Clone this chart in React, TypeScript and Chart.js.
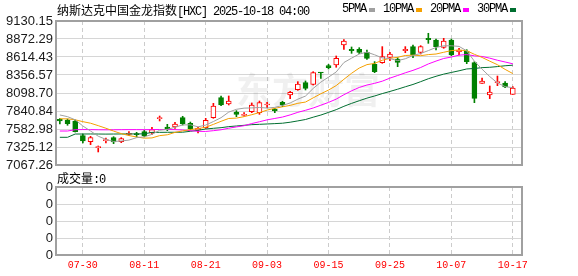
import React, { useEffect, useRef } from 'react';
import { Chart, registerables } from 'chart.js';

Chart.register(...registerables);

const dates = ['07-25','07-28','07-29','07-30','07-31','08-01','08-04','08-05','08-06','08-07','08-08','08-11','08-12','08-13','08-14','08-15','08-18','08-19','08-20','08-21','08-22','08-25','08-26','08-27','08-28','08-29','09-02','09-03','09-04','09-05','09-08','09-09','09-10','09-11','09-12','09-15','09-16','09-17','09-18','09-19','09-22','09-23','09-24','09-25','09-26','09-29','09-30','10-01','10-02','10-03','10-06','10-07','10-08','10-09','10-10','10-13','10-14','10-15','10-16','10-17'];

const opens = [7721,7712,7698,7488,7402,7316,7416,7459,7402,7507,7516,7545,7526,7731,7612,7612,7745,7664,7569,7602,7745,8032,7941,7827,7779,7831,7817,7927,7865,7965,8070,8147,8247,8223,8390,8490,8500,8786,8724,8724,8681,8509,8533,8610,8586,8705,8763,8681,8882,8858,8753,8858,8691,8700,8533,8237,8070,8247,8242,8080];
const highs = [7731,7726,7712,7511,7478,7340,7454,7473,7459,7545,7535,7564,7607,7769,7650,7679,7765,7683,7607,7736,7951,8056,8056,7846,7817,7956,7984,7965,7879,7980,8123,8261,8271,8404,8395,8509,8629,8863,8758,8748,8715,8548,8763,8681,8605,8763,8786,8777,8954,8872,8882,8872,8739,8719,8548,8314,8199,8342,8261,8190];
const lows = [7655,7636,7540,7382,7359,7254,7382,7373,7387,7488,7469,7469,7507,7698,7559,7593,7640,7569,7526,7593,7736,7917,7927,7760,7765,7817,7793,7889,7817,7903,8018,8137,8142,8213,8309,8443,8467,8724,8667,8662,8581,8390,8524,8562,8476,8676,8605,8657,8810,8715,8739,8634,8643,8519,7960,8237,8018,8204,8175,8080];
const closes = [7698,7659,7545,7411,7459,7325,7430,7397,7445,7521,7502,7488,7573,7741,7583,7655,7655,7583,7593,7707,7913,7927,7984,7793,7793,7927,7960,7941,7846,7927,8108,8228,8166,8390,8385,8462,8595,8844,8705,8681,8595,8404,8619,8658,8538,8724,8643,8763,8863,8763,8844,8643,8715,8548,8022,8271,8113,8261,8185,8170];

const ma5 = [7784,7760,7715,7626,7554,7480,7434,7404,7411,7424,7459,7471,7506,7565,7577,7608,7641,7643,7614,7639,7690,7745,7825,7865,7882,7885,7891,7883,7893,7920,7956,8010,8055,8164,8255,8326,8400,8535,8598,8657,8684,8646,8601,8591,8563,8589,8636,8665,8706,8751,8775,8775,8766,8703,8554,8440,8334,8243,8190,8175];
const ma10 = [7730,7728,7715,7688,7666,7631,7594,7553,7517,7489,7469,7452,7455,7488,7500,7534,7556,7575,7589,7608,7649,7693,7734,7739,7760,7788,7818,7854,7879,7901,7921,7951,7969,8029,8088,8141,8205,8295,8381,8456,8505,8523,8568,8595,8610,8636,8641,8633,8649,8657,8682,8706,8715,8704,8653,8608,8555,8504,8437,8377];
const ma20 = [7554,7554,7573,7575,7574,7572,7571,7572,7573,7574,7574,7573,7574,7576,7575,7574,7569,7559,7550,7548,7559,7572,7594,7613,7630,7661,7687,7714,7734,7754,7785,7822,7851,7884,7924,7964,8011,8074,8130,8178,8213,8237,8268,8312,8349,8388,8423,8464,8515,8556,8593,8614,8641,8649,8631,8622,8598,8568,8543,8517];
const ma30 = [7464,7464,7511,7511,7512,7511,7510,7511,7512,7512,7513,7513,7535,7535,7536,7536,7537,7550,7564,7583,7593,7602,7617,7626,7636,7645,7650,7655,7660,7666,7680,7699,7719,7752,7783,7821,7860,7908,7950,7988,8025,8056,8090,8121,8153,8188,8221,8261,8303,8338,8369,8393,8417,8443,8450,8462,8467,8477,8489,8497];
const volumes = [0,0,0,0,0,0,0,0,0,0,0,0,0,0,0,0,0,0,0,0,0,0,0,0,0,0,0,0,0,0,0,0,0,0,0,0,0,0,0,0,0,0,0,0,0,0,0,0,0,0,0,0,0,0,0,0,0,0,0,0];

const priceTickLabels = ['7067.26','7325.12','7582.98','7840.84','8098.70','8356.57','8614.43','8872.29','9130.15'];
const volTickLabels = ['0','0','0','0','0'];
const xTickLabels = ['07-30','08-11','08-21','09-03','09-15','09-25','10-07','10-17'];

const titleCn = '纳斯达克中国金龙指数';
const titleAscii = '[HXC] 2025-10-18 04:00';
const legendItems = [
  { label: '5PMA', color: '#a0a0a0' },
  { label: '10PMA', color: '#f5a000' },
  { label: '20PMA', color: '#ff00ff' },
  { label: '30PMA', color: '#006e30' },
];

const RED = '#ff0000';
const GREEN = '#008000';
const CN_FONT = '"Noto Sans CJK SC", sans-serif';
const MONO_FONT = '"Liberation Mono", monospace';
const Y_FONT = { family: '"Liberation Sans", Arial, sans-serif', size: 13 };

const boxPlugin = {
  id: 'box',
  afterDatasetsDraw(chart: any) {
    const { ctx, chartArea: a } = chart;
    ctx.save();
    ctx.strokeStyle = '#a0a0a0';
    ctx.lineWidth = 2;
    ctx.strokeRect(a.left, a.top, a.right - a.left, a.bottom - a.top);
    ctx.restore();
  },
};

const watermarkPlugin = {
  id: 'watermark',
  beforeDatasetsDraw(chart: any) {
    const { ctx } = chart;
    ctx.save();
    ctx.fillStyle = 'rgba(0,0,0,0.06)';
    ctx.font = 'bold 36px "Noto Sans CJK SC"';
    ctx.textBaseline = 'middle';
    ctx.textAlign = 'left';
    ctx.fillText('东方财富', 236, 90);
    ctx.restore();
  },
};

const xMin = -0.5;
const xMax = 60.2;
const VOL_BASE = 1;

function xTicks(scale: any) {
  scale.ticks = xTickLabels.map((l) => ({ value: dates.indexOf(l) }));
}

const hiddenX = {
  type: 'linear',
  offset: false,
  min: xMin,
  max: xMax,
  afterBuildTicks: xTicks,
  afterFit: (s: any) => { s.height = 0; },
  ticks: { display: false },
  grid: { color: '#cccccc', lineWidth: 1, drawTicks: false, offset: false },
  border: { display: false, dash: [4, 3] },
};

function yAxis(min: number, max: number, labels: string[], values: number[]) {
  return {
    type: 'linear',
    min,
    max,
    afterBuildTicks: (s: any) => { s.ticks = values.map((v) => ({ value: v })); },
    afterFit: (s: any) => { s.width = 56; },
    ticks: {
      autoSkip: false,
      padding: 3,
      color: '#1a1a1a',
      font: Y_FONT,
      callback: (_v: any, i: number) => labels[i],
    },
    grid: { color: '#d6d6d6', lineWidth: 1, drawTicks: false },
    border: { display: false },
  };
}

export default function App() {
  const mainRef = useRef<HTMLCanvasElement>(null);
  const volRef = useRef<HTMLCanvasElement>(null);
  const axisRef = useRef<HTMLCanvasElement>(null);

  useEffect(() => {
    const up = closes.map((c, i) => c >= opens[i]);
    const lineDs = (data: number[], color: string) => ({
      type: 'line' as const,
      data: data.map((v, i) => ({ x: i, y: v })),
      borderColor: color,
      borderWidth: 1,
      pointRadius: 0,
      tension: 0,
      fill: false,
    });

    const main = new Chart(mainRef.current!, {
      type: 'bar',
      data: {
        datasets: [
          lineDs(ma5, '#a0a0a0'),
          lineDs(ma10, '#f5a000'),
          lineDs(ma20, '#ff00ff'),
          lineDs(ma30, '#006e30'),
          {
            type: 'bar',
            data: opens.map((o, i) => ({ x: i, y: [o, closes[i]] })),
            backgroundColor: up.map((u) => (u ? '#ffffff' : GREEN)),
            borderColor: up.map((u) => (u ? RED : GREEN)),
            borderWidth: 1,
            borderSkipped: false,
            barThickness: 5,
            minBarLength: 1,
            grouped: false,
          } as any,
          {
            type: 'bar',
            data: lows.map((l, i) => ({ x: i, y: [l, highs[i]] })),
            backgroundColor: up.map((u) => (u ? RED : GREEN)),
            borderWidth: 0,
            barThickness: 1,
            grouped: false,
          } as any,
        ],
      },
      options: {
        responsive: false,
        animation: false,
        events: [],
        layout: { padding: { left: 0, top: 21, right: 56, bottom: 11 } },
        plugins: { legend: { display: false }, tooltip: { enabled: false } },
        scales: {
          x: hiddenX,
          y: yAxis(7067.26, 9130.15, priceTickLabels, priceTickLabels.map((t) => parseFloat(t))),
        },
      } as any,
      plugins: [watermarkPlugin, boxPlugin],
    });

    const vol = new Chart(volRef.current!, {
      type: 'bar',
      data: {
        datasets: [
          {
            type: 'line',
            data: volumes.map((v, i) => ({ x: i, y: VOL_BASE + v })),
            borderWidth: 0,
            borderColor: 'rgba(0,0,0,0)',
            pointRadius: 0,
            fill: false,
          } as any,
          {
            type: 'bar',
            data: volumes.map((v, i) => ({ x: i, y: [VOL_BASE, VOL_BASE + v] })),
            backgroundColor: up.map((u) => (u ? RED : GREEN)),
            barThickness: 5,
            grouped: false,
          } as any,
        ],
      },
      options: {
        responsive: false,
        animation: false,
        events: [],
        layout: { padding: { left: 0, top: 11, right: 56, bottom: 21 } },
        plugins: { legend: { display: false }, tooltip: { enabled: false } },
        scales: {
          x: hiddenX,
          y: yAxis(
            VOL_BASE,
            VOL_BASE + volTickLabels.length - 1,
            volTickLabels,
            volTickLabels.map((_t, i) => VOL_BASE + i + 0.0001 * 0),
          ),
        },
      } as any,
      plugins: [boxPlugin],
    });

    const axis = new Chart(axisRef.current!, {
      type: 'line',
      data: { datasets: [{ data: [], showLine: false, pointRadius: 0 }] },
      options: {
        responsive: false,
        animation: false,
        events: [],
        layout: { padding: { left: 56, top: 0, right: 56, bottom: 0 } },
        plugins: { legend: { display: false }, tooltip: { enabled: false } },
        scales: {
          x: {
            type: 'linear',
            offset: false,
            min: xMin,
            max: xMax,
            afterBuildTicks: xTicks,
            afterFit: (s: any) => { s.height = 21; },
            ticks: {
              autoSkip: false,
              maxRotation: 0,
              padding: 4,
              color: RED,
              font: { family: MONO_FONT, size: 10 },
              callback: (v: any) => dates[Math.round(v)],
            },
            grid: { display: false, drawTicks: false },
            border: { display: false },
          },
          y: { display: false, min: 0, max: 1 },
        },
      } as any,
    });

    return () => {
      main.destroy();
      vol.destroy();
      axis.destroy();
    };
  }, []);

  const ascii: React.CSSProperties = { fontFamily: MONO_FONT, fontSize: 12, letterSpacing: '-1.2px' };
  const cn: React.CSSProperties = { fontFamily: CN_FONT, fontSize: 12 };

  return (
    <div style={{ position: 'absolute', left: 0, top: 0, width: 578, height: 276, background: '#ffffff', overflow: 'hidden' }}>
      <canvas ref={mainRef} width={578} height={176} style={{ position: 'absolute', left: 0, top: 0 }} />
      <canvas ref={volRef} width={578} height={100} style={{ position: 'absolute', left: 0, top: 176 }} />
      <canvas ref={axisRef} width={578} height={41} style={{ position: 'absolute', left: 0, top: 235 }} />
      <div style={{ position: 'absolute', left: 57, top: 2, lineHeight: '15px', whiteSpace: 'nowrap', color: '#000' }}>
        <span style={cn}>{titleCn}</span>
        <span style={ascii}>{titleAscii}</span>
      </div>
      <div style={{ position: 'absolute', left: 342, top: 2, lineHeight: '15px', whiteSpace: 'nowrap', color: '#000', display: 'flex', alignItems: 'center' }}>
        {legendItems.map((it) => (
          <span key={it.label} style={{ display: 'flex', alignItems: 'center', marginRight: 8 }}>
            <span style={ascii}>{it.label}</span>
            <span style={{ display: 'inline-block', width: 6, height: 4, background: it.color, marginLeft: 3 }} />
          </span>
        ))}
      </div>
      <div style={{ position: 'absolute', left: 57, top: 170, lineHeight: '15px', whiteSpace: 'nowrap', color: '#000' }}>
        <span style={cn}>成交量</span>
        <span style={ascii}>:0</span>
      </div>
    </div>
  );
}
